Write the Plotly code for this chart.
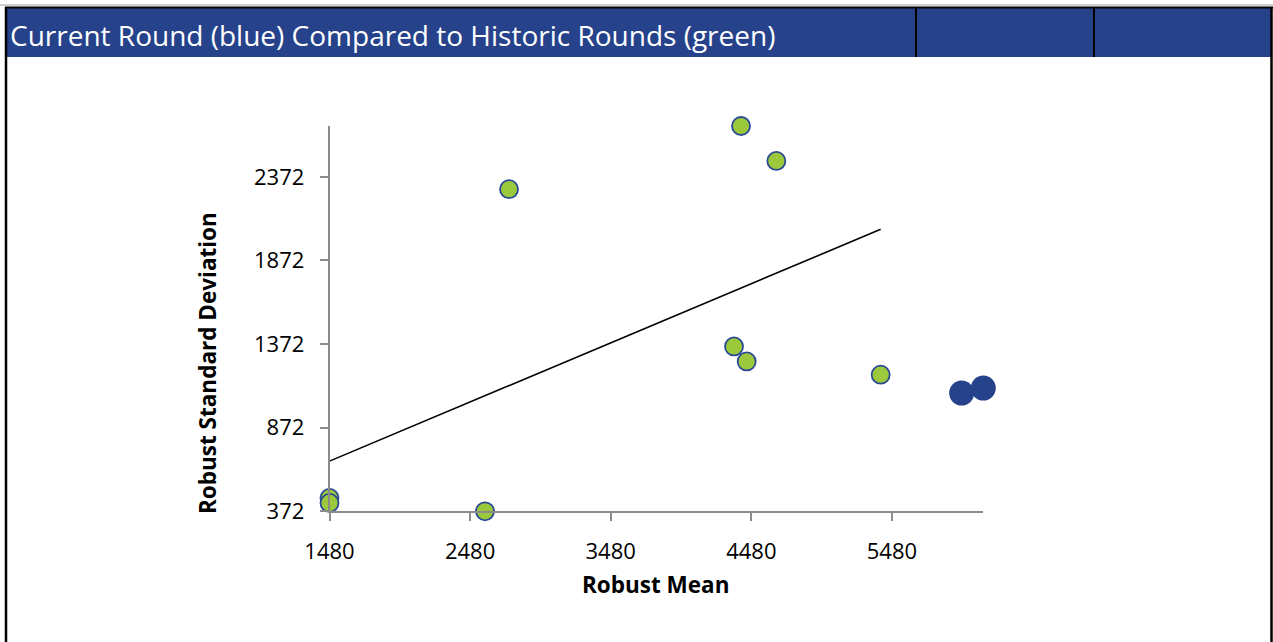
import plotly.graph_objects as go
import numpy as np

W, H = 1273, 642

# historic rounds (green)
hist_mean = [1480, 1480, 2586, 2757, 4357, 4407, 4447, 4658, 5400]
hist_sd = [452, 422, 372, 2298, 1358, 2676, 1268, 2467, 1189]

# current round (blue)
curr_mean = [5976, 6130]
curr_sd = [1079, 1109]

x_ticks = [1480, 2480, 3480, 4480, 5480]
y_ticks = [372, 872, 1372, 1872, 2372]

title_text = 'Current Round (blue) Compared to Historic Rounds (green)'
x_title = 'Robust Mean'
y_title = 'Robust Standard Deviation'

NAVY = '#26428A'
GREEN = '#9BC93B'
AXIS_GREY = '#8C8C8C'
FONT = 'Open Sans, Liberation Sans, sans-serif'


def px_x(p):
    return p / W


def px_y(p):
    return 1 - p / H


# linear trend through the historic rounds
coef = np.polyfit(hist_mean, hist_sd, 1)
trend_x = [min(hist_mean), max(hist_mean)]
trend_y = list(np.poly1d(coef)(trend_x))

fig = go.Figure()

fig.add_trace(go.Scatter(
    x=trend_x, y=trend_y, mode='lines',
    line=dict(color='black', width=1.6),
    hoverinfo='skip', showlegend=False
))

fig.add_trace(go.Scatter(
    x=hist_mean, y=hist_sd, mode='markers',
    marker=dict(size=18, color=GREEN, line=dict(color='#2B4A93', width=1.8)),
    cliponaxis=False, showlegend=False, name='Historic'
))

fig.add_trace(go.Scatter(
    x=curr_mean, y=curr_sd, mode='markers',
    marker=dict(size=25, color=NAVY, line=dict(color=NAVY, width=0)),
    cliponaxis=False, showlegend=False, name='Current'
))

axis_common = dict(
    showgrid=False, zeroline=False, showline=True, automargin=False,
    linecolor=AXIS_GREY, linewidth=1.6,
    ticks='outside', ticklen=8, tickwidth=1.6, tickcolor=AXIS_GREY,
    tickfont=dict(family=FONT, size=22, color='black'),
)

fig.update_xaxes(
    range=[1480, 6130], tickvals=x_ticks,
    domain=[px_x(329.5), px_x(983.3)],
    ticklabelstandoff=11,
    **axis_common
)
fig.update_yaxes(
    range=[372, 2676], tickvals=y_ticks,
    domain=[px_y(511.3), px_y(126)],
    ticklabelstandoff=11,
    **axis_common
)

shapes = [
    # header bar
    dict(type='rect', xref='paper', yref='paper',
         x0=px_x(5), x1=px_x(1271), y0=px_y(57), y1=px_y(8),
         fillcolor=NAVY, line=dict(width=0), layer='below'),
    dict(type='line', xref='paper', yref='paper',
         x0=0, x1=1, y0=px_y(5), y1=px_y(5),
         line=dict(color='#BFBFBF', width=1.5)),
    dict(type='line', xref='paper', yref='paper',
         x0=px_x(5), x1=1, y0=px_y(7.5), y1=px_y(7.5),
         line=dict(color='black', width=2)),
    # outer border
    dict(type='line', xref='paper', yref='paper',
         x0=px_x(6), x1=px_x(6), y0=0, y1=px_y(7),
         line=dict(color='black', width=2.5)),
    dict(type='line', xref='paper', yref='paper',
         x0=px_x(1271.5), x1=px_x(1271.5), y0=0, y1=px_y(7),
         line=dict(color='black', width=2.5)),
]
for sep in [916, 1094]:
    shapes.append(dict(type='line', xref='paper', yref='paper',
                       x0=px_x(sep), x1=px_x(sep), y0=px_y(57), y1=px_y(8),
                       line=dict(color='black', width=2)))

annotations = [
    dict(text=title_text, xref='paper', yref='paper',
         x=px_x(8), y=px_y(35), xanchor='left', yanchor='middle',
         showarrow=False, font=dict(family=FONT, size=28, color='white')),
    dict(text='<b>' + x_title + '</b>', xref='paper', yref='paper',
         x=px_x(656), y=px_y(584), xanchor='center', yanchor='middle',
         showarrow=False, font=dict(family=FONT, size=22.5, color='black')),
    dict(text='<b>' + y_title + '</b>', xref='paper', yref='paper',
         x=px_x(207), y=px_y(363), xanchor='center', yanchor='middle',
         textangle=-90, showarrow=False,
         font=dict(family=FONT, size=22.5, color='black')),
]

fig.update_layout(
    width=W, height=H,
    margin=dict(l=0, r=0, t=0, b=0),
    paper_bgcolor='white', plot_bgcolor='white',
    shapes=shapes, annotations=annotations,
    showlegend=False,
)

# drop the default page margin so the figure sits at the window's corner
fig.write_html('out.html', config={'displayModeBar': False},
               post_script="document.body.style.margin='0';")
